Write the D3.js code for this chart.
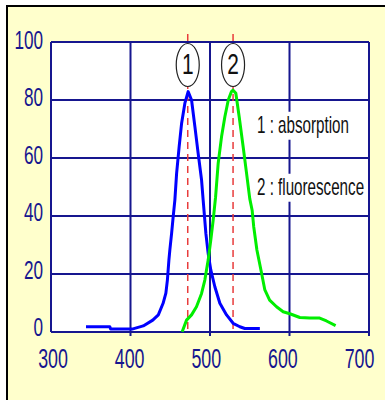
<!DOCTYPE html>
<html>
<head>
<meta charset="utf-8">
<script src="https://cdn.jsdelivr.net/npm/d3@7"></script>
<style>
  html, body { margin: 0; padding: 0; background: #ffffff; }
  svg { display: block; }
  text { font-family: "Liberation Sans", Arial, sans-serif; }
</style>
</head>
<body>
<svg id="chart" width="385" height="400"></svg>
<script>
// Absorption spectrum (wavelength nm, relative intensity)
const absWavelength = [344, 374, 375, 402, 416, 428, 435, 441, 444.5, 446.4, 448.3, 449.5, 451.7, 453.7, 455.8, 458, 461.2, 464.3, 468.4, 472.5, 476.8, 481, 485.1, 489.4, 491.4, 494.8, 497.7, 501, 506.1, 512.4, 520.8, 529.1, 537.5, 543.8, 562.7];
const absIntensity  = [1.8, 1.8, 1.0, 1.0, 2.1, 4.1, 5.9, 9.9, 13.4, 17.9, 24.8, 28.3, 34, 39.8, 45.5, 54.7, 63.9, 72, 78.9, 82.9, 80, 70.8, 61.6, 52.4, 45.5, 34, 27.1, 21.4, 15.6, 9.9, 5.9, 3, 1.8, 1.2, 1.2];

// Fluorescence emission spectrum
const fluWavelength = [465, 470.5, 476.8, 483, 489.4, 493.5, 497.7, 501, 504, 507, 510.3, 514.5, 518.7, 523, 527, 529, 532.5, 536.7, 541.7, 546, 550, 553, 555, 559, 564.7, 569, 575, 583.7, 592, 600.4, 613, 625.5, 638, 646.5, 658];
const fluIntensity  = [0.1, 4.1, 5.9, 8.7, 13.3, 17.9, 24.8, 31.7, 38.6, 46.5, 58.2, 67.3, 74.2, 80, 82.9, 83.4, 82.3, 74.2, 63.9, 54.7, 46, 42, 36.3, 28.3, 20.5, 14.5, 11, 8.7, 7, 6.3, 5, 4.8, 4.8, 3.8, 2.2];

// Peak markers
const peakWavelength = [472, 529];
const peakLabels = ["1", "2"];

// Axis ticks
const xTicks = [300, 400, 500, 600, 700];
const yTicks = [0, 20, 40, 60, 80, 100];

// Legend lines
const legendLabels = ["1 : absorption", "2 : fluorescence"];

const svg = d3.select("#chart");
const W = 385, H = 400;
const plot = { left: 51, right: 369, top: 42, bottom: 332 };

const x = d3.scaleLinear().domain([300, 700]).range([plot.left, plot.right]);
const y = d3.scaleLinear().domain([0, 100]).range([plot.bottom, plot.top]);
// tick labels sit on their own slightly condensed spacing
const xLabelPos = d3.scaleLinear().domain([300, 700]).range([53, 359.5]);
const yLabelPos = d3.scaleLinear().domain([0, 100]).range([336, 49]);

const navy = "#16168f";
const sx = 0.66; // horizontal condensing of the lettering

// panel background and frame
svg.append("rect").attr("x", 0).attr("y", 0).attr("width", W).attr("height", H).attr("fill", "#ffffff");
svg.append("rect").attr("x", 7).attr("y", 6).attr("width", W).attr("height", H)
  .attr("fill", "#ffffcc").attr("stroke", "#000000").attr("stroke-width", 2);

// plot area
svg.append("rect")
  .attr("x", plot.left).attr("y", plot.top)
  .attr("width", plot.right - plot.left).attr("height", plot.bottom - plot.top)
  .attr("fill", "#ffffff");

// grid lines
const grid = svg.append("g");
grid.selectAll("line.v").data(xTicks).join("line")
  .attr("x1", d => x(d)).attr("x2", d => x(d))
  .attr("y1", plot.top).attr("y2", d => (d === 300 ? plot.bottom : plot.bottom + 4))
  .attr("stroke", navy).attr("stroke-width", 2);
grid.selectAll("line.h").data(yTicks).join("line")
  .attr("x1", plot.left).attr("x2", plot.right)
  .attr("y1", d => y(d)).attr("y2", d => y(d))
  .attr("stroke", navy).attr("stroke-width", 2);

// tick labels
svg.append("g").selectAll("text").data(xTicks).join("text")
  .attr("transform", d => `translate(${xLabelPos(d)},368) scale(${sx},1)`)
  .attr("text-anchor", "middle")
  .attr("font-size", 27).attr("fill", navy)
  .text(d => d);
svg.append("g").selectAll("text").data(yTicks).join("text")
  .attr("transform", d => `translate(43,${yLabelPos(d)}) scale(${sx},1)`)
  .attr("text-anchor", "end")
  .attr("font-size", 26).attr("fill", navy)
  .text(d => d);

// legend text on white boxes
const legend = svg.append("g");
const legendBaselines = [133, 195];
legendLabels.forEach((label, i) => {
  const g = legend.append("g");
  const box = g.append("rect").attr("fill", "#ffffff");
  const t = g.append("text")
    .attr("transform", `translate(257,${legendBaselines[i]}) scale(${sx},1)`)
    .attr("font-size", 23).attr("fill", "#111111")
    .text(label);
  const bb = t.node().getBBox();
  const w = bb.width * sx;
  box.attr("x", 256).attr("y", legendBaselines[i] + bb.y)
     .attr("width", w + 2).attr("height", bb.height + 2);
});

// dashed red peak lines
svg.append("g").selectAll("line").data(peakWavelength).join("line")
  .attr("x1", d => x(d)).attr("x2", d => x(d))
  .attr("y1", plot.top - 8).attr("y2", plot.bottom)
  .attr("stroke", "#e83c3c").attr("stroke-width", 1.5)
  .attr("stroke-dasharray", "7,5");

// spectra
const line = d3.line().x(d => x(d[0])).y(d => y(d[1]));
const absPts = absWavelength.map((w, i) => [w, absIntensity[i]]);
const fluPts = fluWavelength.map((w, i) => [w, fluIntensity[i]]);

svg.append("path").datum(absPts).attr("d", line)
  .attr("fill", "none").attr("stroke", "#0000ff").attr("stroke-width", 3)
  .attr("stroke-linejoin", "round");
svg.append("path").datum(fluPts).attr("d", line)
  .attr("fill", "none").attr("stroke", "#00ee00").attr("stroke-width", 3)
  .attr("stroke-linejoin", "round");

// circled peak numbers
const marks = svg.append("g").selectAll("g").data(peakWavelength).join("g")
  .attr("transform", d => `translate(${x(d)},65)`);
marks.append("ellipse")
  .attr("rx", 11.5).attr("ry", 21.5)
  .attr("fill", "#ffffff").attr("stroke", "#222222").attr("stroke-width", 1.2);
marks.append("text")
  .attr("transform", "translate(0,9) scale(0.72,1)")
  .attr("text-anchor", "middle")
  .attr("font-size", 29).attr("fill", "#111111")
  .text((d, i) => peakLabels[i]);
</script>
</body>
</html>
